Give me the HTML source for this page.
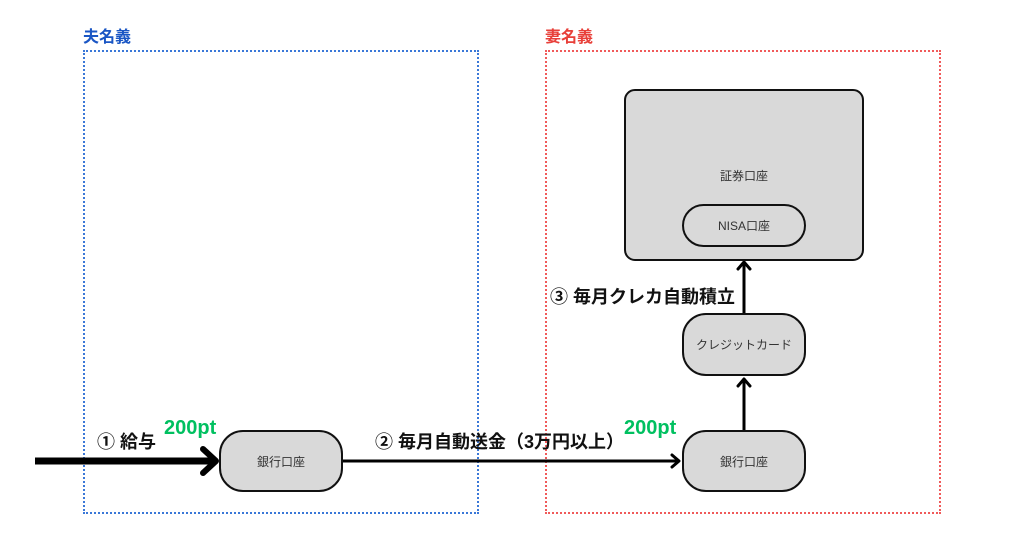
<!DOCTYPE html>
<html><head><meta charset="utf-8"><style>
body{margin:0;width:1024px;height:538px;background:#fff;font-family:"Liberation Sans","Noto Sans CJK JP",sans-serif;position:relative;overflow:hidden}
.a{position:absolute;white-space:nowrap}
.t{font-weight:bold;font-size:18px;color:#111}
.g{font-weight:bold;font-size:20px;color:#00c060}
.n{position:absolute;background:#d9d9d9;border:2.5px solid #111;box-sizing:border-box;display:flex;align-items:center;justify-content:center;font-size:12px;color:#333}
</style></head><body>
<div class="a" style="left:83px;top:23px;font-weight:bold;font-size:16px;color:#1a56c4">夫名義</div>
<div class="a" style="left:545px;top:23px;font-weight:bold;font-size:16px;color:#e8403a">妻名義</div>
<div class="a" style="left:83px;top:50px;width:396px;height:464px;border:2px dotted #3a78d8;box-sizing:border-box"></div>
<div class="a" style="left:545px;top:50px;width:396px;height:464px;border:2px dotted #f05a5a;box-sizing:border-box"></div>
<svg class="a" style="left:0;top:0" width="1024" height="538">
<line x1="35" y1="461" x2="214" y2="461" stroke="#000" stroke-width="7"/>
<polyline points="203,449 216,461 203,473" fill="none" stroke="#000" stroke-width="6" stroke-linecap="round" stroke-linejoin="round"/>
<line x1="343" y1="461" x2="679" y2="461" stroke="#000" stroke-width="3"/>
<polyline points="672,455 679,461 672,467" fill="none" stroke="#000" stroke-width="3" stroke-linecap="round" stroke-linejoin="round"/>
<line x1="744" y1="430" x2="744" y2="379" stroke="#000" stroke-width="3"/>
<polyline points="738,386 744,379 750,386" fill="none" stroke="#000" stroke-width="3" stroke-linecap="round" stroke-linejoin="round"/>
<line x1="744" y1="313" x2="744" y2="262" stroke="#000" stroke-width="3"/>
<polyline points="738,269 744,262 750,269" fill="none" stroke="#000" stroke-width="3" stroke-linecap="round" stroke-linejoin="round"/>
</svg>
<div class="n" style="left:219px;top:430px;width:124px;height:62px;border-radius:24px">銀行口座</div>
<div class="n" style="left:682px;top:430px;width:124px;height:62px;border-radius:24px">銀行口座</div>
<div class="n" style="left:682px;top:313px;width:124px;height:63px;border-radius:24px">クレジットカード</div>
<div class="n" style="left:624px;top:89px;width:240px;height:172px;border-radius:11px;align-items:flex-start;padding-top:76px">証券口座</div>
<div class="n" style="left:682px;top:204px;width:124px;height:43px;border-radius:22px">NISA口座</div>
<div class="a t" style="left:97px;top:428px">① 給与</div>
<div class="a g" style="left:164px;top:417px">200pt</div>
<div class="a t" style="left:375px;top:428px">② 毎月自動送金（3万円以上）</div>
<div class="a g" style="left:624px;top:417px">200pt</div>
<div class="a t" style="left:550px;top:283px">③ 毎月クレカ自動積立</div>
</body></html>
